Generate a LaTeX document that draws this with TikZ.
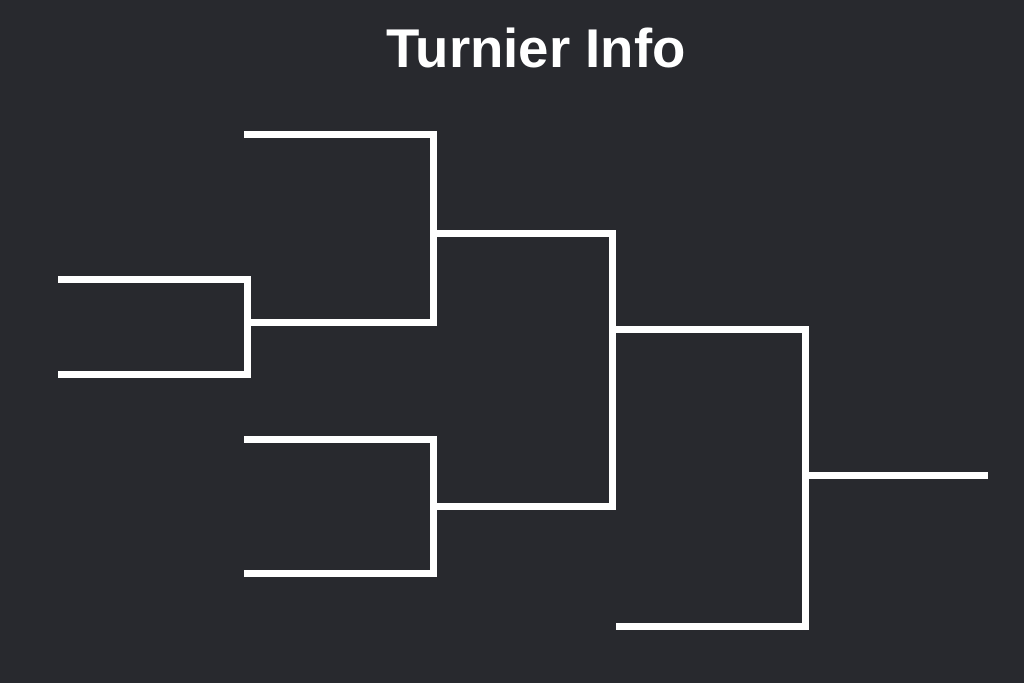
\documentclass[tikz,border=0pt]{standalone}
\usepackage{fontspec}
\setmainfont{Liberation Sans}
\definecolor{bgdark}{RGB}{40,41,46}
\begin{document}
\begin{tikzpicture}[x=1pt,y=-1pt,
  bracket/.style={draw=white,line width=7pt,line join=miter,line cap=butt}]
\fill[bgdark] (0,0) rectangle (1024,683);
\useasboundingbox (0,0) rectangle (1024,683);
\node[text=white,font=\fontsize{54.6}{60}\selectfont\bfseries,anchor=base,inner sep=0pt] (title) at (536,67) {Turnier Info};
% end points
\coordinate (a1) at (58,279.5);
\coordinate (a2) at (58,374.5);
\coordinate (b1) at (244,134.5);
\coordinate (c1) at (244,439.5);
\coordinate (c2) at (244,573.5);
\coordinate (e1) at (616,626.5);
\coordinate (fin) at (988,475.5);
% round 1 bracket A
\draw[bracket] (a1) -- (247.5,279.5) -- (247.5,374.5) -- (a2);
% A output joined to bracket B
\draw[bracket] (247.5,322.5) -- (433.5,322.5) -- (433.5,134.5) -- (b1);
% bracket C
\draw[bracket] (c1) -- (433.5,439.5) -- (433.5,573.5) -- (c2);
% bracket D (outputs of B and C)
\draw[bracket] (433.5,233.5) -- (612.5,233.5) -- (612.5,506.5) -- (433.5,506.5);
% D output joined to bracket E
\draw[bracket] (612.5,329.5) -- (805.5,329.5) -- (805.5,626.5) -- (e1);
% final
\draw[bracket] (805.5,475.5) -- (fin);
\end{tikzpicture}
\end{document}
